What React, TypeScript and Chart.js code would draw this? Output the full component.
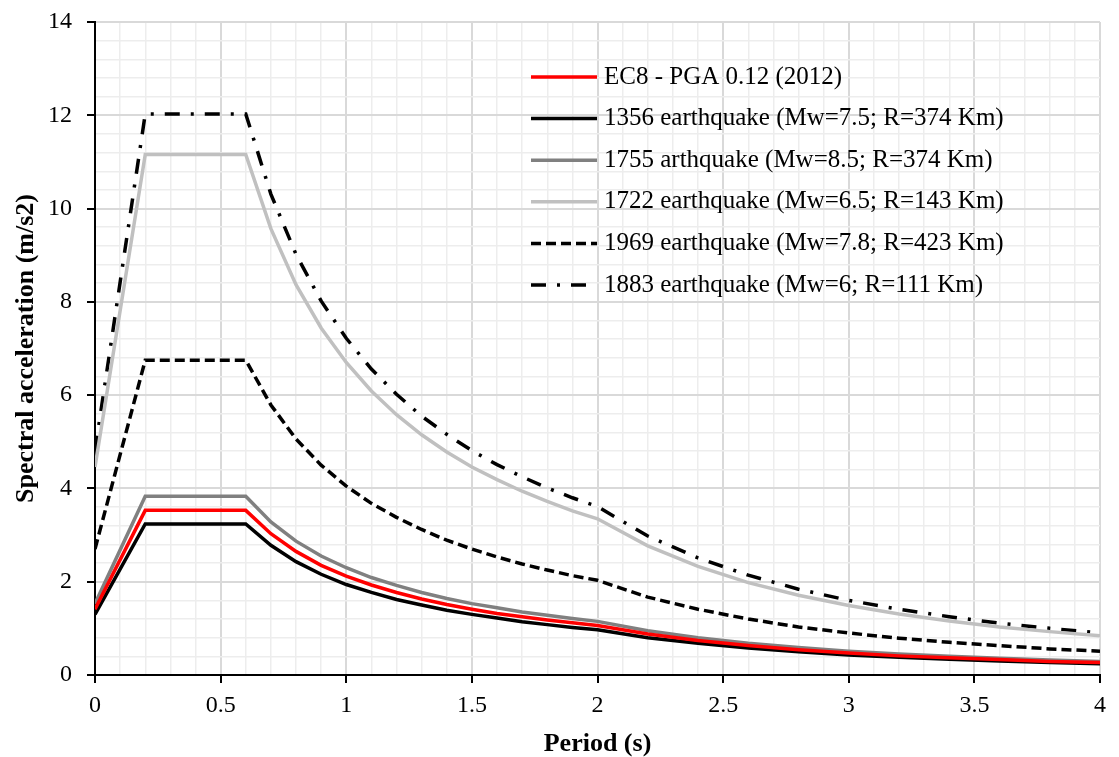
import React, { useEffect, useRef } from 'react';
import { Chart, registerables } from 'chart.js';

Chart.register(...registerables);

// Period (s)
const periods = [0, 0.2, 0.6, 0.7, 0.8, 0.9, 1.0, 1.1, 1.2, 1.3, 1.4, 1.5, 1.6, 1.7, 1.8, 1.9, 2.0, 2.2, 2.4, 2.6, 2.8, 3.0, 3.2, 3.4, 3.6, 3.8, 4.0];

// Spectral acceleration (m/s2)
const ec8 = [1.41, 3.53, 3.53, 3.03, 2.65, 2.35, 2.12, 1.93, 1.77, 1.63, 1.51, 1.41, 1.32, 1.25, 1.18, 1.12, 1.06, 0.88, 0.74, 0.63, 0.54, 0.47, 0.41, 0.37, 0.33, 0.29, 0.27];
const eq1356 = [1.30, 3.24, 3.24, 2.78, 2.43, 2.16, 1.94, 1.77, 1.62, 1.50, 1.39, 1.30, 1.22, 1.14, 1.08, 1.02, 0.97, 0.80, 0.68, 0.58, 0.50, 0.43, 0.38, 0.34, 0.30, 0.27, 0.24];
const eq1755 = [1.53, 3.83, 3.83, 3.28, 2.87, 2.55, 2.30, 2.09, 1.92, 1.77, 1.64, 1.53, 1.44, 1.35, 1.28, 1.21, 1.15, 0.95, 0.80, 0.68, 0.59, 0.51, 0.45, 0.40, 0.36, 0.32, 0.29];
const eq1722 = [4.46, 11.16, 11.16, 9.57, 8.37, 7.44, 6.70, 6.09, 5.58, 5.15, 4.78, 4.46, 4.19, 3.94, 3.72, 3.52, 3.35, 2.77, 2.33, 1.98, 1.71, 1.49, 1.31, 1.16, 1.03, 0.93, 0.84];
const eq1969 = [2.70, 6.75, 6.75, 5.79, 5.06, 4.50, 4.05, 3.68, 3.38, 3.12, 2.89, 2.70, 2.53, 2.38, 2.25, 2.13, 2.03, 1.67, 1.41, 1.20, 1.03, 0.90, 0.79, 0.70, 0.63, 0.56, 0.51];
const eq1883 = [4.81, 12.03, 12.03, 10.31, 9.02, 8.02, 7.22, 6.56, 6.02, 5.55, 5.16, 4.81, 4.51, 4.25, 4.01, 3.80, 3.61, 2.98, 2.51, 2.14, 1.84, 1.60, 1.41, 1.25, 1.11, 1.00, 0.90];

const seriesLabels = [
  'EC8 - PGA 0.12 (2012)',
  '1356 earthquake (Mw=7.5; R=374 Km)',
  '1755 arthquake (Mw=8.5; R=374 Km)',
  '1722 earthquake (Mw=6.5; R=143 Km)',
  '1969 earthquake (Mw=7.8; R=423 Km)',
  '1883 earthquake (Mw=6; R=111 Km)',
];

const xTitle = 'Period (s)';
const yTitle = 'Spectral acceleration (m/s2)';

const X_MIN = 0;
const X_MAX = 4;
const X_MINOR = 0.1;
const X_MAJOR = 0.5;
const Y_MIN = 0;
const Y_MAX = 14;
const Y_MINOR = 0.4;
const Y_MAJOR = 2;

const SERIF = "'Liberation Serif', 'Times New Roman', serif";

const isMultiple = (v: number, step: number) => Math.abs(v / step - Math.round(v / step)) < 1e-6;

const overlayPlugin = {
  id: 'overlay',
  afterDraw(chart: any) {
    const { ctx, chartArea } = chart;
    ctx.save();
    // Legend inside plot area
    const lx0 = chartArea.left + 436;
    const lx1 = chartArea.left + 502;
    const tx = chartArea.left + 509;
    const ty0 = chartArea.top + 55;
    const rowH = 41.6;
    chart.data.datasets.forEach((ds: any, i: number) => {
      const y = ty0 + i * rowH;
      ctx.beginPath();
      ctx.setLineDash(ds.borderDash || []);
      ctx.lineWidth = ds.borderWidth;
      ctx.strokeStyle = ds.borderColor;
      ctx.lineCap = 'butt';
      ctx.moveTo(lx0, y);
      ctx.lineTo(lx1, y);
      ctx.stroke();
      ctx.setLineDash([]);
      ctx.fillStyle = '#000';
      ctx.font = `25px ${SERIF}`;
      ctx.textAlign = 'left';
      ctx.textBaseline = 'middle';
      ctx.fillText(ds.label, tx, y);
    });
    // Axis titles
    ctx.fillStyle = '#000';
    ctx.font = `bold 26px ${SERIF}`;
    ctx.textAlign = 'center';
    ctx.textBaseline = 'alphabetic';
    ctx.fillText(xTitle, (chartArea.left + chartArea.right) / 2, 751);
    ctx.translate(33, (chartArea.top + chartArea.bottom) / 2);
    ctx.rotate(-Math.PI / 2);
    ctx.fillText(yTitle, 0, 0);
    ctx.restore();
  },
};

export default function App() {
  const canvasRef = useRef<HTMLCanvasElement | null>(null);

  useEffect(() => {
    if (!canvasRef.current) return;
    const mk = (vals: number[]) => periods.map((p, i) => ({ x: p, y: vals[i] }));
    const chart = new Chart(canvasRef.current, {
      type: 'line',
      data: {
        datasets: [
          { label: seriesLabels[0], data: mk(ec8), borderColor: '#ff0000', borderWidth: 3.5, borderDash: [] },
          { label: seriesLabels[1], data: mk(eq1356), borderColor: '#000000', borderWidth: 3.5, borderDash: [] },
          { label: seriesLabels[2], data: mk(eq1755), borderColor: '#808080', borderWidth: 3.5, borderDash: [] },
          { label: seriesLabels[3], data: mk(eq1722), borderColor: '#c0c0c0', borderWidth: 3.5, borderDash: [] },
          { label: seriesLabels[4], data: mk(eq1969), borderColor: '#000000', borderWidth: 3.5, borderDash: [10, 5] },
          { label: seriesLabels[5], data: mk(eq1883), borderColor: '#000000', borderWidth: 3.5, borderDash: [15, 11, 3, 11] },
        ] as any,
      },
      options: {
        animation: false,
        responsive: false,
        devicePixelRatio: 1,
        layout: { autoPadding: false, padding: { left: 0, top: 22, right: 19, bottom: 0 } },
        elements: { point: { radius: 0, hoverRadius: 0 }, line: { tension: 0, fill: false } },
        plugins: { legend: { display: false }, tooltip: { enabled: false }, title: { display: false } },
        scales: {
          x: {
            type: 'linear',
            min: X_MIN,
            max: X_MAX,
            afterFit: (s: any) => { s.height = 82; s.paddingLeft = 0; s.paddingRight = 0; },
            border: { display: true, color: '#000', width: 2 },
            grid: {
              color: (c: any) => (isMultiple(c.tick.value, X_MAJOR) ? '#d9d9d9' : '#ededed'),
              lineWidth: (c: any) => (isMultiple(c.tick.value, X_MAJOR) ? 2 : 1.5),
              tickColor: (c: any) => (isMultiple(c.tick.value, X_MAJOR) ? '#000' : 'rgba(0,0,0,0)'),
              tickWidth: 2,
              tickLength: 8,
              drawTicks: true,
            },
            ticks: {
              stepSize: X_MINOR,
              autoSkip: false,
              maxRotation: 0,
              padding: 8,
              color: '#000',
              font: { family: SERIF, size: 24 },
              callback: (v: any) => (isMultiple(Number(v), X_MAJOR) ? String(Math.round(Number(v) * 10) / 10) : ''),
            },
          },
          y: {
            type: 'linear',
            min: Y_MIN,
            max: Y_MAX,
            afterFit: (s: any) => { s.width = 95; s.paddingTop = 0; s.paddingBottom = 0; },
            border: { display: true, color: '#000', width: 2 },
            grid: {
              color: (c: any) => (isMultiple(c.tick.value, Y_MAJOR) ? '#d9d9d9' : '#ededed'),
              lineWidth: (c: any) => (isMultiple(c.tick.value, Y_MAJOR) ? 2 : 1.5),
              tickColor: (c: any) => (isMultiple(c.tick.value, Y_MAJOR) ? '#000' : 'rgba(0,0,0,0)'),
              tickWidth: 2,
              tickLength: 8,
              drawTicks: true,
            },
            ticks: {
              stepSize: Y_MINOR,
              autoSkip: false,
              padding: 15,
              color: '#000',
              font: { family: SERIF, size: 24 },
              callback: (v: any) => (isMultiple(Number(v), Y_MAJOR) ? String(Math.round(Number(v))) : ''),
            },
          },
        },
      } as any,
      plugins: [overlayPlugin],
    });
    return () => chart.destroy();
  }, []);

  return (
    <div style={{ position: 'absolute', left: 0, top: 0, width: 1119, height: 757, background: '#fff' }}>
      <canvas ref={canvasRef} width={1119} height={757} style={{ display: 'block', width: 1119, height: 757 }} />
    </div>
  );
}
